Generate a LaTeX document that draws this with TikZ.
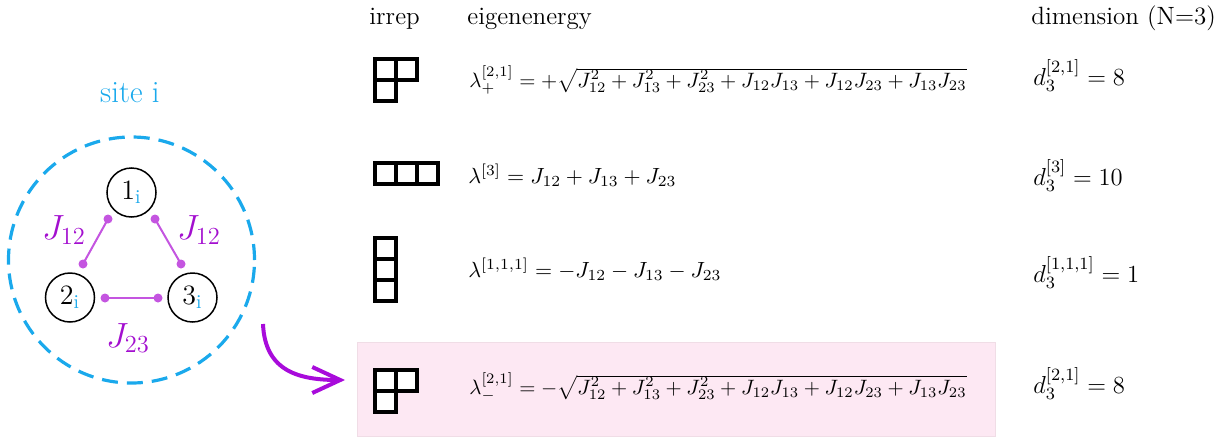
\RequirePackage{fix-cm}
\documentclass[tikz,border=0pt]{standalone}
\usepackage{amsmath}
\usepackage{fontspec}
\usetikzlibrary{arrows.meta}
\definecolor{cyanc}{HTML}{1AA9EC}
\definecolor{purpd}{HTML}{A30FCF}
\definecolor{purpl}{HTML}{C455E0}
\definecolor{arrowc}{HTML}{A80BDB}
\definecolor{pinkbg}{HTML}{FDE8F3}
\definecolor{pinkbd}{HTML}{F0DDE6}
\begin{document}
\begin{tikzpicture}[x=0.5pt,y=-0.5pt,
  sitenode/.style={circle,draw,line width=0.75pt,minimum size=24.5pt,inner sep=0pt,font=\fontsize{14}{16}\selectfont},
  jlab/.style={text=purpd,font=\fontsize{17.5}{20}\selectfont,inner sep=0pt},
  hdr/.style={anchor=base west,font=\fontsize{12.5}{15}\selectfont,inner sep=0pt},
  eq/.style={anchor=base west,inner sep=0pt,font=\fontsize{11}{13}\selectfont},
  longeq/.style={eq,font=\fontsize{10.4}{12}\selectfont},
  dimeq/.style={eq,font=\fontsize{12.3}{14}\selectfont},
  cell/.style={line width=1.6pt},
  bdot/.style={circle,fill=purpl,inner sep=0pt,minimum size=4.5pt},
  bond/.style={purpl,line width=1pt},
  bigarrow/.style={arrowc,line width=2pt,-{Straight Barb[length=14pt,width=13pt,line width=2pt]}}]
\useasboundingbox (0,0) rectangle (1218,439);
% highlighted row background
\path[draw=pinkbd,fill=pinkbg,line width=0.5pt] (357,342) rectangle (995,436);
% site
\node[text=cyanc,font=\fontsize{15.5}{18}\selectfont,anchor=base,inner sep=0pt] (sitelbl) at (130,102) {site i};
\node[circle,draw=cyanc,line width=1.6pt,dash pattern=on 8pt off 4.5pt,minimum size=123pt,inner sep=0pt] (site) at (131.5,260) {};
\node[sitenode] (n1) at (131.5,192.5) {$1_{\textcolor{cyanc}{\mathrm{i}}}$};
\node[sitenode] (n2) at (70,297.5) {$2_{\textcolor{cyanc}{\mathrm{i}}}$};
\node[sitenode] (n3) at (192.5,297.5) {$3_{\textcolor{cyanc}{\mathrm{i}}}$};
% bonds
\node[bdot] (a1) at (108,219) {};
\node[bdot] (a2) at (83,264) {};
\node[bdot] (b1) at (155,219) {};
\node[bdot] (b3) at (181,264) {};
\node[bdot] (c2) at (105,298) {};
\node[bdot] (c3) at (158,298) {};
\draw[bond] (a1.center) -- (a2.center);
\draw[bond] (b1.center) -- (b3.center);
\draw[bond] (c2.center) -- (c3.center);
\node[jlab] (j12a) at (64,230) {$J_{12}$};
\node[jlab] (j12b) at (199,230) {$J_{12}$};
\node[jlab] (j23) at (128,338) {$J_{23}$};
% arrow
\coordinate (as) at (263,324);
\coordinate (ae) at (345,380);
\draw[bigarrow] (as) .. controls (265,372) and (300,380) .. (ae);
% headers
\node[hdr] (h1) at (369,25) {irrep};
\node[hdr] (h2) at (467,25) {eigenenergy};
\node[hdr] (h3) at (1031,25) {dimension (N=3)};
% Young diagrams
\foreach \cx/\cy in {375/59,396/59,375/80} \draw[cell] (\cx,\cy) rectangle ++(21,21);
\foreach \cx/\cy in {375/163,396/163,417/163} \draw[cell] (\cx,\cy) rectangle ++(21,21);
\foreach \cx/\cy in {375/238,375/259,375/280} \draw[cell] (\cx,\cy) rectangle ++(21,21);
\foreach \cx/\cy in {375/370,396/370,375/391} \draw[cell,fill=white] (\cx,\cy) rectangle ++(21,21);
% eigenenergies
\node[longeq] (e1) at (469,87) {$\lambda_+^{[2,1]} = +\sqrt{J_{12}^2+J_{13}^2+J_{23}^2+J_{12}J_{13}+J_{12}J_{23}+J_{13}J_{23}}$};
\node[eq] (e2) at (468,183) {$\lambda^{[3]} = J_{12}+J_{13}+J_{23}$};
\node[eq] (e3) at (468,277) {$\lambda^{[1,1,1]} = -J_{12}-J_{13}-J_{23}$};
\node[longeq] (e4) at (469,394) {$\lambda_-^{[2,1]} = -\sqrt{J_{12}^2+J_{13}^2+J_{23}^2+J_{12}J_{13}+J_{12}J_{23}+J_{13}J_{23}}$};
% dimensions
\node[dimeq] (d1) at (1033,85) {$d_3^{[2,1]} = 8$};
\node[dimeq] (d2) at (1033,185) {$d_3^{[3]} = 10$};
\node[dimeq] (d3) at (1033,282) {$d_3^{[1,1,1]} = 1$};
\node[dimeq] (d4) at (1033,393) {$d_3^{[2,1]} = 8$};
\end{tikzpicture}
\end{document}
